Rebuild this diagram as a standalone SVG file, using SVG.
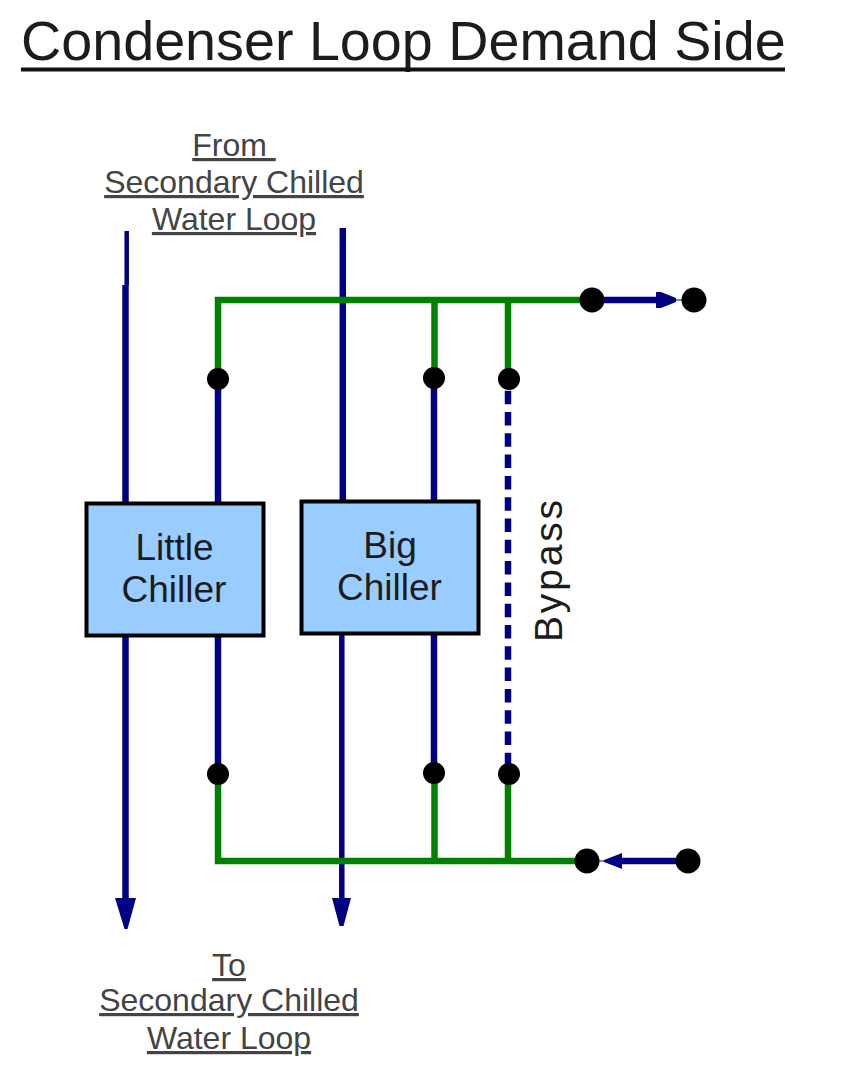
<svg xmlns="http://www.w3.org/2000/svg" width="845" height="1071" viewBox="0 0 845 1071">
<style>
text{font-family:"Liberation Sans",Arial,sans-serif;fill:#1c1c1c}
.cap{font-size:32px;text-anchor:middle;fill:#444;text-decoration:underline}
.node{font-size:37px;text-anchor:middle}
.b{stroke:#000080;stroke-width:6.500;fill:none}
.g{stroke:#008000;stroke-width:6.500;fill:none}
.box{fill:#99ccff;stroke:#000;stroke-width:4}
.a{fill:#000080}
circle{fill:#000}
</style>
<rect width="845" height="1071" fill="#fff"/>
<g id="title"><text x="21" y="60" font-size="55.700" fill="#111">Condenser Loop Demand Side</text><path d="M21 69.500H785" stroke="#111" stroke-width="4"/></g>
<g id="connectors">
<path class="b" style="stroke-width:4.500" d="M126.700 231V285"/>
<path class="b" d="M125.500 285V905"/>
<path class="b" d="M342.800 228V502"/>
<path class="b" style="stroke-width:5.500" d="M341.800 632V905"/>
<path class="b" d="M218 379V774M434 378V773"/>
<path class="b" d="M508 390.700V770" stroke-dasharray="13.500 7.800"/>
<path class="g" d="M218 379V300H592M434.500 300V378M508 300V379"/>
<path class="g" d="M218 774V861H587M434.500 861V773M508 861V774"/>
<path class="b" d="M592 300H660"/>
<path class="b" d="M688 861H622"/>
<path d="M660 300H694" stroke="#000080" stroke-width="1"/>
<path d="M587 861H610" stroke="#000080" stroke-width="1"/>
<polygon class="a" points="656,292 661,292 676,298 676,302 661,308 656,308"/>
<polygon class="a" points="622,853 617,855 604,860 604,862 617,867 622,869"/>
<polygon class="a" points="115,898 136,898 127.500,929 124.500,929"/>
<polygon class="a" points="332,898 351,898 343.500,926 339.500,926"/>
</g>
<g id="little-chiller"><rect class="box" x="86.500" y="503.500" width="177" height="132"/><text class="node" x="174.500" y="560">Little</text><text class="node" x="174" y="602">Chiller</text></g>
<g id="big-chiller"><rect class="box" x="301.500" y="501.500" width="177" height="132"/><text class="node" x="390" y="558">Big</text><text class="node" x="389.500" y="600">Chiller</text></g>
<g id="junctions">
<circle cx="218" cy="379" r="11"/><circle cx="434" cy="378" r="11"/><circle cx="509" cy="379" r="11"/>
<circle cx="218" cy="774" r="11"/><circle cx="434" cy="773" r="11"/><circle cx="509" cy="774" r="11"/>
<circle cx="592" cy="300" r="12.500"/><circle cx="694" cy="300" r="12.500"/>
<circle cx="587" cy="861" r="12.500"/><circle cx="688" cy="861" r="12.500"/>
</g>
<g id="labels">
<text class="cap" x="234" y="156" xml:space="preserve">From </text>
<text class="cap" x="234" y="193">Secondary Chilled</text>
<text class="cap" x="234" y="230">Water Loop</text>
<text class="cap" x="229" y="976">To</text>
<text class="cap" x="229" y="1011">Secondary Chilled</text>
<text class="cap" x="229" y="1049">Water Loop</text>
<text font-size="39" textLength="142" lengthAdjust="spacing" transform="translate(562 642) rotate(-90)">Bypass</text>
</g>
</svg>
